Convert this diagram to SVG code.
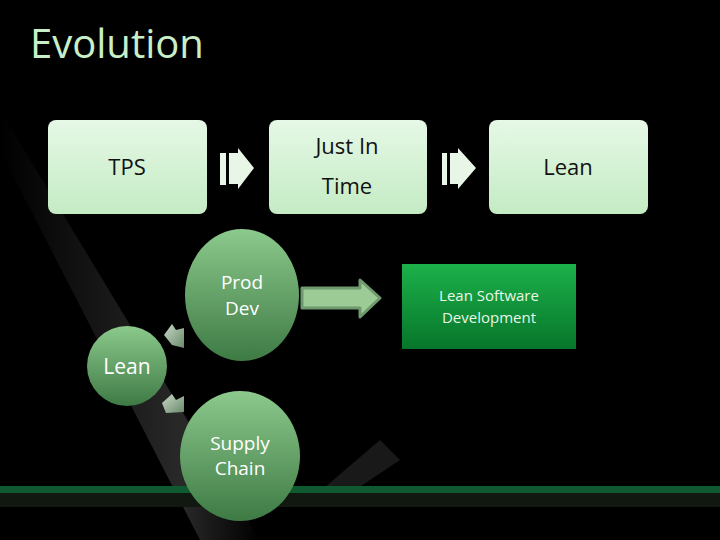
<svg xmlns="http://www.w3.org/2000/svg" width="720" height="540" viewBox="0 0 720 540">
<defs>
<linearGradient id="box" x1="0" y1="0" x2="0" y2="1"><stop offset="0" stop-color="#e6f8e6"/><stop offset="1" stop-color="#c4ebc4"/></linearGradient>
<linearGradient id="circ" x1="0" y1="0" x2="0" y2="1"><stop offset="0" stop-color="#8cc98c"/><stop offset="1" stop-color="#3e7a44"/></linearGradient>
<linearGradient id="lsd" x1="0" y1="0" x2="0" y2="1"><stop offset="0" stop-color="#1cb04a"/><stop offset="1" stop-color="#07762a"/></linearGradient>
<linearGradient id="streak" x1="0" y1="0" x2="1" y2="0"><stop offset="0" stop-color="#000"/><stop offset="0.7" stop-color="#3a3a3a"/><stop offset="1" stop-color="#000"/></linearGradient>
<linearGradient id="sarr" x1="0" y1="0" x2="1" y2="1"><stop offset="0" stop-color="#c8d8c8"/><stop offset="1" stop-color="#6a8a6a"/></linearGradient>
<style>
.t{font-family:"Open Sans","Liberation Sans",sans-serif;text-anchor:middle}
.bx{fill:url(#box)}
.ci{fill:url(#circ)}
.bar{fill:#e8f6e8}
</style>
</defs>
<rect width="720" height="540" fill="#000"/>
<polygon points="0,110 0,150 200,540 260,540" fill="url(#streak)" opacity="0.7"/>
<polygon points="310,500 380,440 400,460 340,500" fill="#2a2a2a" opacity="0.6"/>
<rect x="0" y="486" width="720" height="7" fill="#0f5a30"/>
<rect x="0" y="493" width="720" height="14" fill="#101810"/>
<text x="30" y="58" class="t" style="text-anchor:start;font-size:40px;fill:#c8efc8">Evolution</text>
<g id="connectors">
<rect x="220" y="153" width="6" height="32" fill="#e8f6e8"/>
<polygon points="229,153 238,153 238,148 254,168 238,189 238,184 229,184" fill="#e8f6e8"/>
<rect x="442" y="153" width="5" height="32" fill="#e8f6e8"/>
<polygon points="450,153 458,153 458,148 476,168 458,189 458,184 450,184" fill="#e8f6e8"/>
<polygon points="302,288 360,288 360,280 380,298 360,317 360,308 302,308" fill="#9ccb96" stroke="#6e9a6e" stroke-width="3" stroke-linejoin="round"/>
<polygon points="164,335 172,324 176,330 184,328 184,348 172,345" fill="url(#sarr)"/>
<polygon points="162,403 172,394 176,400 184,396 184,412 166,413" fill="url(#sarr)"/>
</g>
<g id="tps"><rect x="48" y="120" width="159" height="94" rx="8" class="bx"/><text x="127" y="175" class="t" font-size="22" fill="#111">TPS</text></g>
<g id="jit"><rect x="269" y="120" width="158" height="94" rx="8" class="bx"/><text x="347" y="154" class="t" font-size="22" fill="#111">Just In</text><text x="347" y="194" class="t" font-size="22" fill="#111">Time</text></g>
<g id="lean1"><rect x="489" y="120" width="159" height="94" rx="8" class="bx"/><text x="568" y="175" class="t" font-size="22" fill="#111">Lean</text></g>
<g id="proddev"><ellipse cx="242" cy="295" rx="57" ry="66" class="ci"/><text x="242" y="289" class="t" font-size="19" fill="#fff">Prod</text><text x="242" y="315" class="t" font-size="19" fill="#fff">Dev</text></g>
<g id="lean2"><circle cx="127" cy="366" r="40" class="ci"/><text x="127" y="374" class="t" font-size="21" fill="#fff">Lean</text></g>
<g id="supply"><ellipse cx="240" cy="456" rx="60" ry="65" class="ci"/><text x="240" y="450" class="t" font-size="19" fill="#fff">Supply</text><text x="240" y="475" class="t" font-size="19" fill="#fff">Chain</text></g>
<g id="lsd-node"><rect x="402" y="264" width="174" height="85" fill="url(#lsd)"/><text x="489" y="301" class="t" font-size="15" fill="#e8f6e8">Lean Software</text><text x="489" y="323" class="t" font-size="15" fill="#e8f6e8">Development</text></g>
</svg>
